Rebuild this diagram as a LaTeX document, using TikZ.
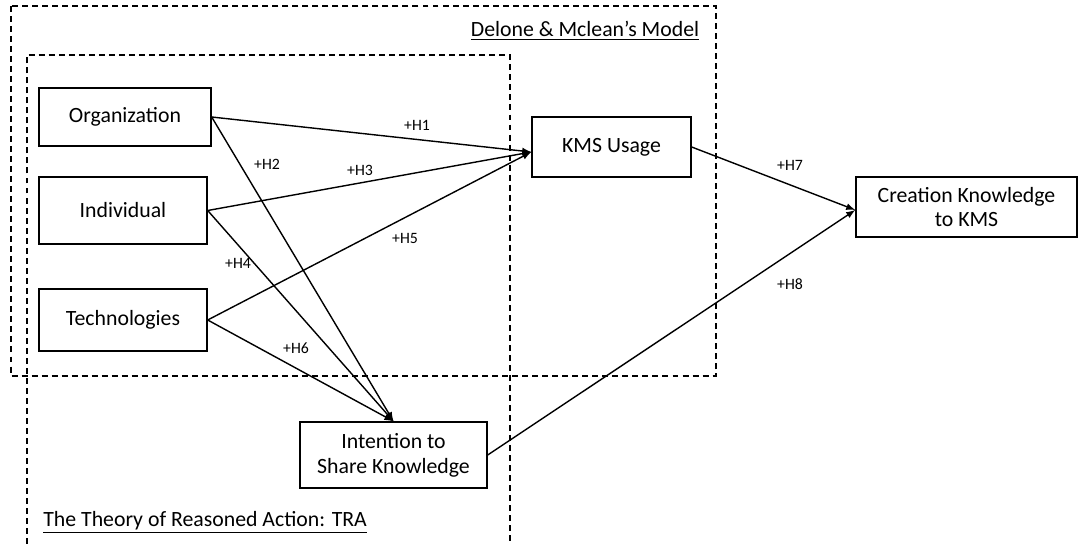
\documentclass[tikz,border=0pt]{standalone}
\usepackage{fontspec}
\setmainfont{Carlito}
\usetikzlibrary{arrows}

\begin{document}
\begin{tikzpicture}[x=0.02cm,y=-0.02cm,
        box/.style={draw,line width=0.8pt,align=center,inner sep=0pt,font=\fontsize{12.4}{14.2}\selectfont},
        hyp/.style={font=\fontsize{9}{10}\selectfont},
        frame/.style={line width=0.8pt,dash pattern=on 3.4pt off 2.3pt},
        link/.style={-latex,line width=0.8pt}]
        \useasboundingbox (0,0) rectangle (1078,544);
        % the two models
        \draw[frame] (11,6) rectangle (716,376);
        \draw[frame] (27,544) -- (27,55) -- (510,55) -- (510,544);
        \node[font=\fontsize{12.4}{15}\selectfont] (dlm) at (585,31) {\underline{Delone \& Mclean’s Model}};
        \node[font=\fontsize{12.4}{15}\selectfont,anchor=west,inner sep=0pt] (tra) at (43,522) {\underline{The Theory of Reasoned Action: TRA}};
        % boxes
        \node[box,minimum width=3.44cm,minimum height=1.16cm] (org) at (125,117) {Organization};
        \node[box,minimum width=3.36cm,minimum height=1.34cm] (ind) at (123,210.5) {Individual};
        \node[box,minimum width=3.36cm,minimum height=1.24cm] (tec) at (123,320) {Technologies};
        \node[box,minimum width=3.18cm,minimum height=1.2cm] (kms) at (611.5,147) {KMS Usage};
        \node[box,minimum width=3.74cm,minimum height=1.32cm] (its) at (393.5,455) {Intention to\\Share Knowledge};
        \node[box,minimum width=4.42cm,minimum height=1.2cm] (ckm) at (966.5,207) {Creation Knowledge\\to KMS};
        % hypotheses
        \draw[link] (org.east) -- ([yshift=-0.1cm]kms.west);
        \draw[link] (ind.east) -- ([yshift=-0.1cm]kms.west);
        \draw[link] (tec.east) -- ([yshift=-0.1cm]kms.west);
        \draw[link] (org.east) -- (its.north);
        \draw[link] (ind.east) -- (its.north);
        \draw[link] (tec.east) -- (its.north);
        \draw[link] (kms.east) -- ([yshift=-0.06cm]ckm.west);
        \draw[link] (its.east) -- ([yshift=-0.06cm]ckm.west);
        \node[hyp] (h1) at (417,125) {+H1};
        \node[hyp] (h2) at (267,164) {+H2};
        \node[hyp] (h3) at (360,170) {+H3};
        \node[hyp] (h4) at (238,263) {+H4};
        \node[hyp] (h5) at (405,238) {+H5};
        \node[hyp] (h6) at (296,348) {+H6};
        \node[hyp] (h7) at (790,165) {+H7};
        \node[hyp] (h8) at (790,284) {+H8};
\end{tikzpicture}
\end{document}
